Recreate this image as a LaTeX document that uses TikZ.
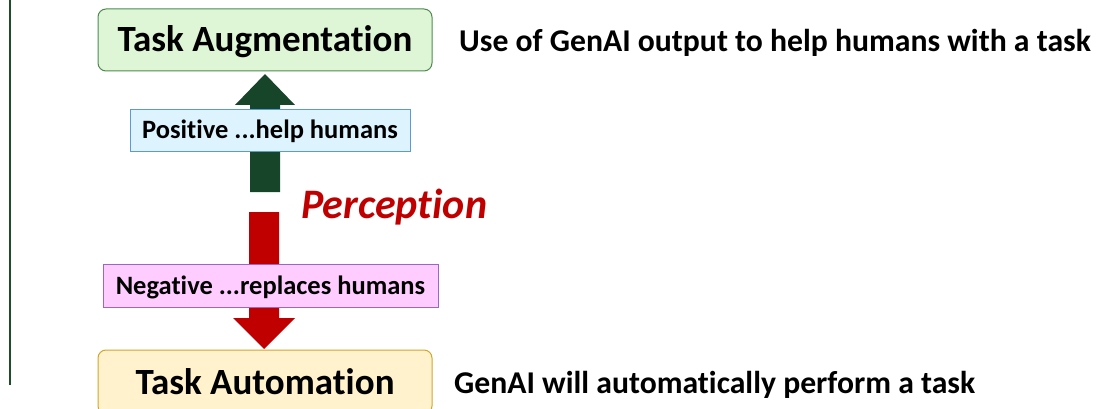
\documentclass[tikz,border=0pt]{standalone}
\usepackage{fontspec}
\setmainfont[Ligatures=NoCommon]{Carlito}
\definecolor{augfill}{HTML}{DEF5D6}
\definecolor{augdraw}{HTML}{4E8A4E}
\definecolor{autofill}{HTML}{FFF2CC}
\definecolor{autodraw}{HTML}{D4A52A}
\definecolor{posfill}{HTML}{DDF4FF}
\definecolor{posdraw}{HTML}{5B9BD5}
\definecolor{negfill}{HTML}{FFCCFF}
\definecolor{negdraw}{HTML}{9966CC}
\definecolor{greenarrow}{HTML}{17452A}
\definecolor{redarrow}{HTML}{C00000}
\definecolor{leftline}{HTML}{1E4D2B}
\tikzset{
  taskbox/.style={draw, rounded corners=8pt, line width=1pt, minimum width=334pt, minimum height=62pt, inner sep=0pt, text height=24pt, text depth=0pt, font=\fontsize{37}{40}\selectfont\bfseries},
  labelbox/.style={draw, line width=1pt, inner sep=0pt, text height=17pt, text depth=0pt, font=\fontsize{26.5}{30}\selectfont\bfseries},
  desc/.style={anchor=base west, inner sep=0pt, font=\fontsize{31.7}{34}\selectfont\bfseries},
}
\begin{document}
\begin{tikzpicture}[x=1pt,y=-1pt]
\useasboundingbox (0,0) rectangle (1103,409);
\draw[leftline, line width=2pt] (10,0) -- (10,385);
% nodes
\node[taskbox, draw=augdraw, fill=augfill] (aug) at (265,40) {Task Augmentation};
\node[taskbox, draw=autodraw, fill=autofill, minimum height=64pt] (auto) at (265,382) {Task Automation};
% green arrow (up)
\fill[greenarrow] (250,192) -- (250,105) -- (235,105) -- (265,74) -- (295,105) -- (280,105) -- (280,192) -- cycle;
% red arrow (down)
\fill[redarrow] (249,212) -- (249,318) -- (233,318) -- (264,349) -- (295,318) -- (279,318) -- (279,212) -- cycle;
\node[labelbox, draw=posdraw, fill=posfill, minimum width=280pt, minimum height=42pt] (pos) at (270,130.5) {Positive ...help humans};
\node[labelbox, draw=negdraw, fill=negfill, minimum width=335pt, minimum height=43pt] (neg) at (270.5,285.5) {Negative ...replaces humans};
\node[anchor=base west, inner sep=0pt, text=redarrow, font=\fontsize{42}{44}\selectfont\bfseries\itshape] (perc) at (301,218.5) {Perception};
\node[desc] (augdesc) at (459,52) {Use of GenAI output to help humans with a task};
\node[desc] (autodesc) at (454,393) {GenAI will automatically perform a task};
\end{tikzpicture}
\end{document}
